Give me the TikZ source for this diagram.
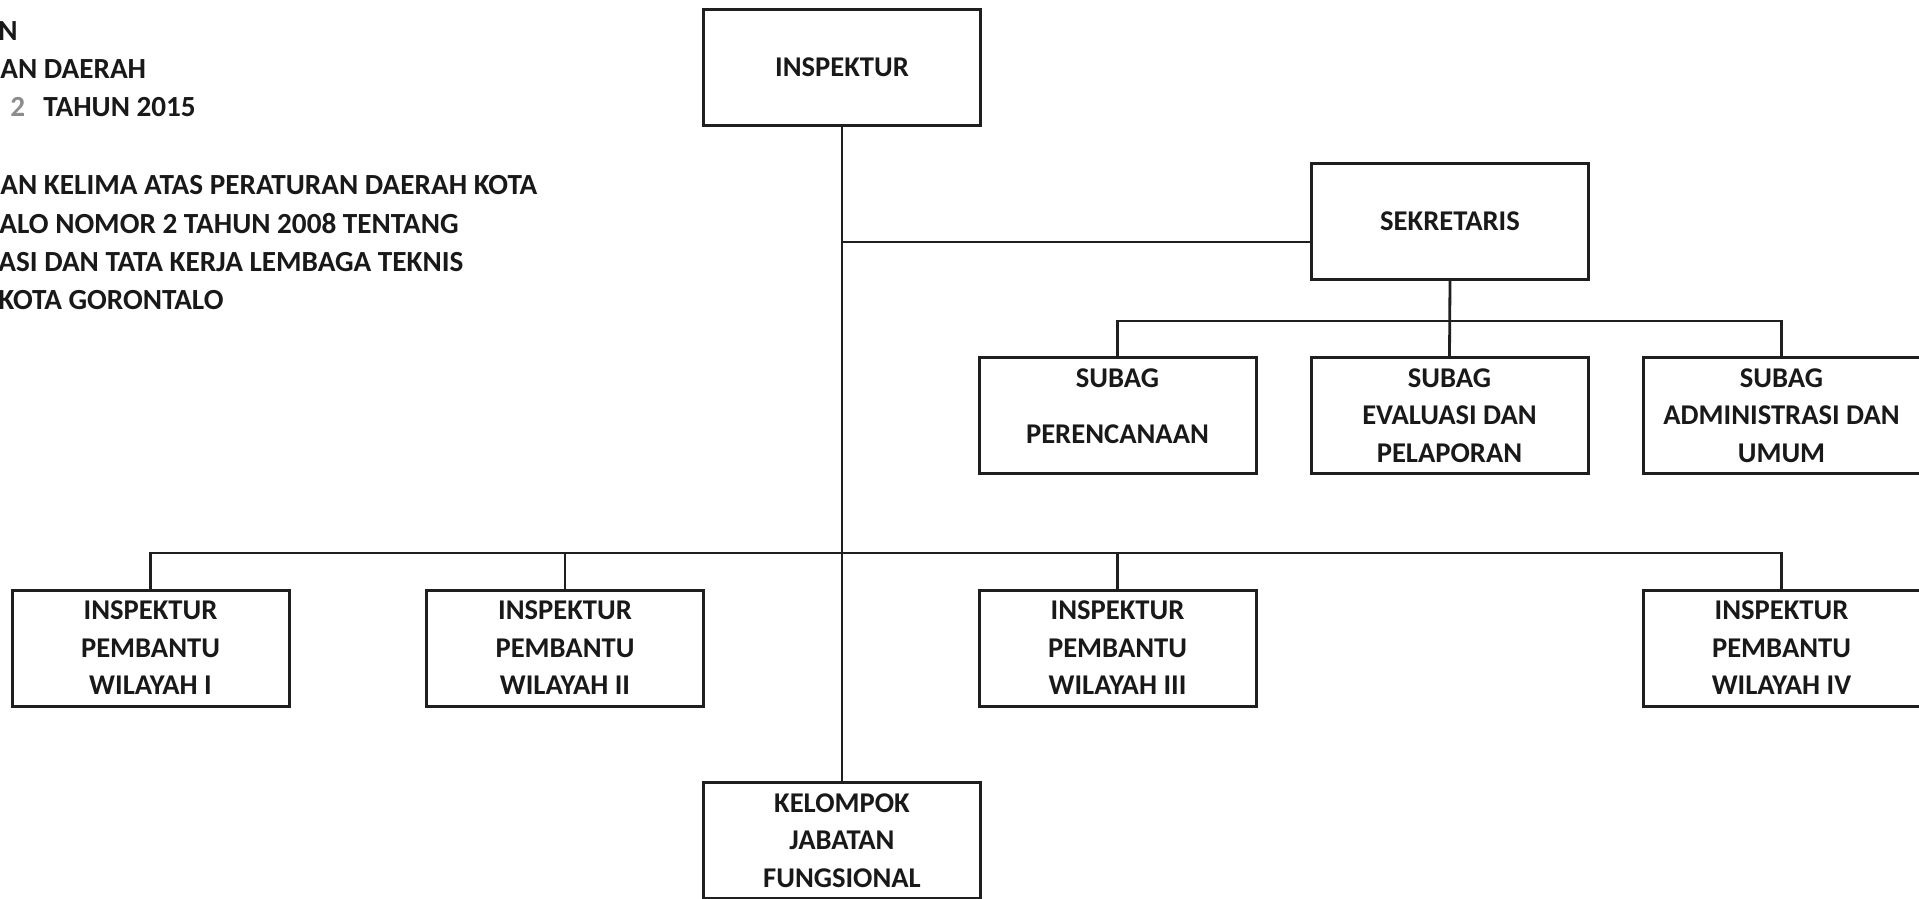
\documentclass[tikz,border=0pt]{standalone}
\usepackage{fontspec}
\setmainfont{Carlito}
\begin{document}
\begin{tikzpicture}[x=0.5pt,y=-0.5pt,
  box/.style={draw=black!88, line width=1.5pt, fill=white, minimum width=138.5pt, minimum height=58pt, inner sep=0pt, align=center, font=\bfseries\fontsize{14.3}{18.7}\selectfont, text=black!90},
  conn/.style={draw=black!88, line width=1.4pt},
  lbl/.style={anchor=west, inner sep=0pt, text height=9.3pt, text depth=0pt, font=\bfseries\fontsize{14.6}{17}\selectfont, text=black!90}]
\useasboundingbox (0,0) rectangle (1919,899);
\fill[white] (0,0) rectangle (1919,899);

% header text (cut at the left edge)
\node[lbl] (t1) at (-2,31) {N};
\node[lbl] (t2) at (0,69) {AN DAERAH};
\node[lbl, text=black!45] (t3a) at (10,107) {2};
\node[lbl] (t3b) at (43,107) {TAHUN 2015};
\node[lbl] (t4) at (0,185) {AN KELIMA ATAS PERATURAN DAERAH KOTA};
\node[lbl] (t5) at (-1,224) {ALO NOMOR 2 TAHUN 2008 TENTANG};
\node[lbl] (t6) at (-2,262) {ASI DAN TATA KERJA LEMBAGA TEKNIS};
\node[lbl] (t7) at (-2,300) {KOTA GORONTALO};

% boxes
\node[box] (insp) at (842,67.5) {INSPEKTUR};
\node[box] (sek) at (1450,221.5) {SEKRETARIS};
\node[box] (sp) at (1117.5,415.5) {SUBAG\\[9.35pt]PERENCANAAN\\[-9.35pt]\phantom{X}};
\node[box] (se) at (1449.5,415.5) {SUBAG\\EVALUASI DAN\\PELAPORAN};
\node[box] (sa) at (1781.5,415.5) {SUBAG\\ADMINISTRASI DAN\\UMUM};
\node[box] (ip1) at (150.5,648) {INSPEKTUR\\PEMBANTU\\WILAYAH I};
\node[box] (ip2) at (565,648) {INSPEKTUR\\PEMBANTU\\WILAYAH II};
\node[box] (ip3) at (1117.5,648) {INSPEKTUR\\PEMBANTU\\WILAYAH III};
\node[box] (ip4) at (1781.5,648) {INSPEKTUR\\PEMBANTU\\WILAYAH IV};
\node[box] (kel) at (842,840.5) {KELOMPOK\\JABATAN\\FUNGSIONAL};

% junction coordinates
\coordinate (jsek) at (842,242);
\coordinate (bsub) at (1450,321);
\coordinate (bip) at (842,553);

% connectors
\draw[conn] (insp.south) -- (kel.north);
\draw[conn] (jsek) -- (jsek -| sek.west);
\draw[conn] (sek.south) -- (se.north);
\draw[conn] (sp.north) -- (sp.north |- bsub) -- (sa.north |- bsub) -- (sa.north);
\draw[conn] (ip1.north) -- (ip1.north |- bip) -- (ip4.north |- bip) -- (ip4.north);
\draw[conn] (ip2.north) -- (ip2.north |- bip);
\draw[conn] (ip3.north) -- (ip3.north |- bip);
\end{tikzpicture}
\end{document}
